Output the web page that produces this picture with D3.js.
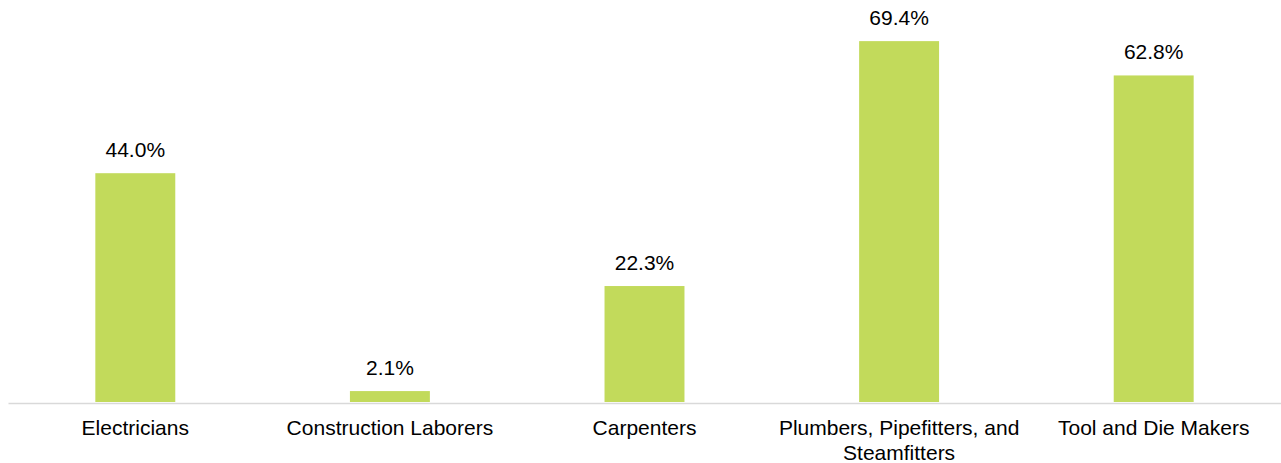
<!DOCTYPE html>
<html>
<head>
<meta charset="utf-8">
<script src="https://cdn.jsdelivr.net/npm/d3@7"></script>
<style>
  html, body { margin: 0; padding: 0; background: #fff; }
  svg { display: block; font-family: "Liberation Sans", Arial, sans-serif; }
</style>
</head>
<body>
<div id="chart"></div>
<script>
// chart data
const categories = [
  'Electricians',
  'Construction Laborers',
  'Carpenters',
  'Plumbers, Pipefitters, and Steamfitters',
  'Tool and Die Makers',
];
const values = [44.0, 2.1, 22.3, 69.4, 62.8];

const width = 1281;
const height = 463;
const margin = { top: 0, right: 0, bottom: 61, left: 8 };
const baseY = 402;

const svg = d3.select('#chart')
  .append('svg')
  .attr('width', width)
  .attr('height', height);

const x = d3.scaleBand()
  .domain(categories)
  .range([margin.left, width])
  .paddingInner(0.686)
  .paddingOuter(0.343);

// 44% -> 229px tall
const y = d3.scaleLinear()
  .domain([0, 100])
  .range([baseY, baseY - 520]);

// bars
svg.selectAll('rect.bar')
  .data(values)
  .enter()
  .append('rect')
  .attr('class', 'bar')
  .attr('x', (d, i) => x(categories[i]))
  .attr('y', (d) => y(d))
  .attr('width', x.bandwidth())
  .attr('height', (d) => y(0) - y(d))
  .attr('fill', '#c2da5b');

// value labels
svg.selectAll('text.val')
  .data(values)
  .enter()
  .append('text')
  .attr('class', 'val')
  .attr('x', (d, i) => x(categories[i]) + x.bandwidth() / 2)
  .attr('y', (d) => y(d) - 16)
  .attr('text-anchor', 'middle')
  .attr('font-size', 21)
  .attr('fill', '#000')
  .text((d) => `${d.toFixed(1)}%`);

// x axis
const axis = svg.append('g')
  .attr('transform', `translate(0,${baseY + 1})`)
  .call(d3.axisBottom(x).tickSize(0).tickSizeOuter(0));

axis.select('.domain')
  .attr('stroke', '#d9d9d9')
  .attr('stroke-width', 1.5);

axis.selectAll('.tick text')
  .attr('font-size', 21)
  .attr('font-family', '"Liberation Sans", Arial, sans-serif')
  .attr('fill', '#000')
  .attr('y', 32)
  .attr('dy', 0)
  .call(wrap, x.step() - 8);

function wrap(texts, maxW) {
  texts.each(function () {
    const text = d3.select(this);
    const words = text.text().split(/\s+/);
    const yPos = text.attr('y');
    text.text(null);
    let line = [];
    let lineNo = 0;
    let tspan = text.append('tspan').attr('x', 0).attr('y', yPos).attr('dy', 0);
    words.forEach((w) => {
      line.push(w);
      tspan.text(line.join(' '));
      if (tspan.node().getComputedTextLength() > maxW && line.length > 1) {
        line.pop();
        tspan.text(line.join(' '));
        line = [w];
        lineNo += 1;
        tspan = text.append('tspan').attr('x', 0).attr('y', yPos)
          .attr('dy', lineNo * 25).text(w);
      }
    });
  });
}
</script>
</body>
</html>
